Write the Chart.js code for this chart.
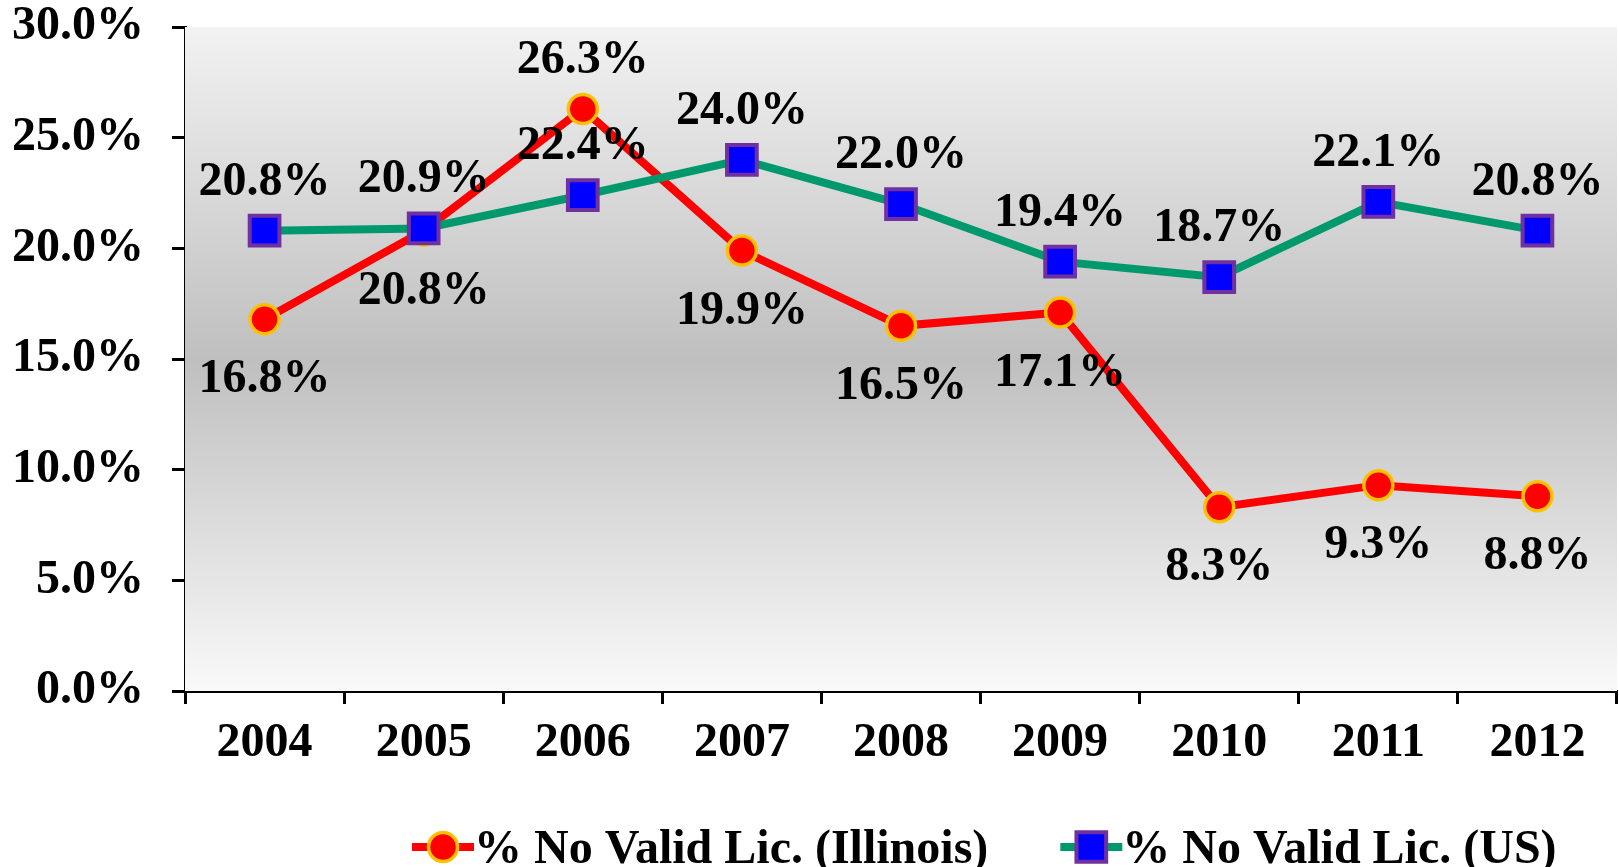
<!DOCTYPE html>
<html>
<head>
<meta charset="utf-8">
<script src="https://cdn.jsdelivr.net/npm/chart.js@4.4.1/dist/chart.umd.min.js"></script>
<style>
  html, body { margin: 0; padding: 0; background: #fff; overflow: hidden; }
  #wrap { width: 1619px; height: 867px; position: relative; }
  #chart { display: block; }
</style>
</head>
<body>
<div id="wrap"><canvas id="chart"></canvas></div>
<script>
// % drivers with no valid licence, Illinois vs US, 2004-2012

const years = ['2004', '2005', '2006', '2007', '2008', '2009', '2010', '2011', '2012'];
const illinois = [16.8, 20.8, 26.3, 19.9, 16.5, 17.1, 8.3, 9.3, 8.8];
const us = [20.8, 20.9, 22.4, 24.0, 22.0, 19.4, 18.7, 22.1, 20.8];
const yTicks = [0, 5, 10, 15, 20, 25, 30];

const FONT = '"Liberation Serif", "Times New Roman", serif';
const FONT_SIZE = 48;

const COLORS = {
  ilLine: '#ff0000',
  ilFill: '#ff0000',
  ilBorder: '#ffc000',
  usLine: '#00996e',
  usFill: '#0000ff',
  usBorder: '#7030a0',
  axis: '#000000',
};

const pct = (v) => v.toFixed(1) + '%';

// plot background: light at top/bottom, grey in the middle
const plotBackground = {
  id: 'plotBackground',
  beforeDatasetsDraw(chart) {
    const { ctx, chartArea: a } = chart;
    const g = ctx.createLinearGradient(0, a.top, 0, a.bottom);
    g.addColorStop(0, '#f2f2f2');
    g.addColorStop(0.5, '#bfbfbf');
    g.addColorStop(1, '#f9f9f9');
    ctx.save();
    ctx.fillStyle = g;
    ctx.fillRect(a.left, a.top, a.right - a.left, a.bottom - a.top);
    ctx.restore();
  },
};

// value labels above / below each marker
const valueLabels = {
  id: 'valueLabels',
  afterDatasetsDraw(chart) {
    const { ctx } = chart;
    ctx.save();
    ctx.font = 'bold ' + FONT_SIZE + 'px ' + FONT;
    ctx.fillStyle = '#000';
    ctx.textAlign = 'center';
    ctx.textBaseline = 'alphabetic';
    chart.data.datasets.forEach((ds, i) => {
      const meta = chart.getDatasetMeta(i);
      meta.data.forEach((pt, j) => {
        const dy = ds.labelSide[j] === 'below' ? 73 : -36;
        ctx.fillText(pct(ds.data[j]), pt.x, pt.y + dy);
      });
    });
    ctx.restore();
  },
};

// legend drawn as line + marker, like the office-style original
const lineLegend = {
  id: 'lineLegend',
  afterDraw(chart) {
    const { ctx } = chart;
    const items = chart.data.datasets.slice().sort((a, b) => a.legendIndex - b.legendIndex);
    const midY = 847;
    const seg = 62;
    let x = 412;
    ctx.save();
    ctx.font = 'bold ' + FONT_SIZE + 'px ' + FONT;
    ctx.textBaseline = 'alphabetic';
    ctx.textAlign = 'left';
    items.forEach((ds) => {
      ctx.strokeStyle = ds.borderColor;
      ctx.lineWidth = ds.borderWidth;
      ctx.beginPath();
      ctx.moveTo(x, midY);
      ctx.lineTo(x + seg, midY);
      ctx.stroke();
      ctx.fillStyle = ds.pointBackgroundColor;
      ctx.strokeStyle = ds.pointBorderColor;
      ctx.lineWidth = ds.pointBorderWidth;
      const cx = x + seg / 2;
      ctx.beginPath();
      if (ds.pointStyle === 'rect') {
        const s = ds.pointRadius * Math.SQRT1_2;
        ctx.rect(cx - s, midY - s, 2 * s, 2 * s);
      } else {
        ctx.arc(cx, midY, ds.pointRadius, 0, Math.PI * 2);
      }
      ctx.fill();
      ctx.stroke();
      ctx.fillStyle = '#000';
      ctx.fillText(ds.label, x + seg, 863);
      x += seg + ctx.measureText(ds.label).width + 72;
    });
    ctx.restore();
  },
};

new Chart(document.getElementById('chart'), {
  type: 'line',
  data: {
    labels: years,
    datasets: [
      {
        label: '% No Valid Lic. (Illinois)',
        data: illinois,
        legendIndex: 0,
        labelSide: ['below', 'below', 'above', 'below', 'below', 'below', 'below', 'below', 'below'],
        borderColor: COLORS.ilLine,
        borderWidth: 8,
        tension: 0,
        pointStyle: 'circle',
        pointRadius: 14.5,
        pointBackgroundColor: COLORS.ilFill,
        pointBorderColor: COLORS.ilBorder,
        pointBorderWidth: 3.5,
        order: 1,
        clip: false,
      },
      {
        label: '% No Valid Lic. (US)',
        data: us,
        legendIndex: 1,
        labelSide: us.map(() => 'above'),
        borderColor: COLORS.usLine,
        borderWidth: 8,
        tension: 0,
        pointStyle: 'rect',
        pointRadius: 21,
        pointBackgroundColor: COLORS.usFill,
        pointBorderColor: COLORS.usBorder,
        pointBorderWidth: 4,
        order: 0,
        clip: false,
      },
    ],
  },
  options: {
    responsive: true,
    maintainAspectRatio: false,
    animation: false,
    events: [],
    layout: { autoPadding: false, padding: { top: 27, right: 2, bottom: 0, left: 0 } },
    plugins: { legend: { display: false }, tooltip: { enabled: false } },
    scales: {
      x: {
        offset: true,
        afterFit: (s) => { s.height = 176; s.paddingLeft = 0; s.paddingRight = 0; },
        grid: { drawOnChartArea: false, offset: true, tickLength: 13, tickWidth: 3, tickColor: COLORS.axis },
        border: { display: true, color: COLORS.axis, width: 3 },
        ticks: { color: '#000', padding: 11, maxRotation: 0, font: { family: FONT, size: FONT_SIZE, weight: 'bold' } },
      },
      y: {
        min: 0,
        max: 30,
        afterFit: (s) => { s.width = 185; s.paddingTop = 0; s.paddingBottom = 0; },
        afterBuildTicks: (s) => { s.ticks = yTicks.map((v) => ({ value: v })); },
        grid: { drawOnChartArea: false, tickLength: 13, tickWidth: 3, tickColor: COLORS.axis },
        border: { display: true, color: COLORS.axis, width: 3 },
        ticks: {
          color: '#000',
          padding: 28,
          font: { family: FONT, size: FONT_SIZE, weight: 'bold' },
          callback: (v) => pct(v),
        },
      },
    },
  },
  plugins: [plotBackground, valueLabels, lineLegend],
});
</script>
</body>
</html>
